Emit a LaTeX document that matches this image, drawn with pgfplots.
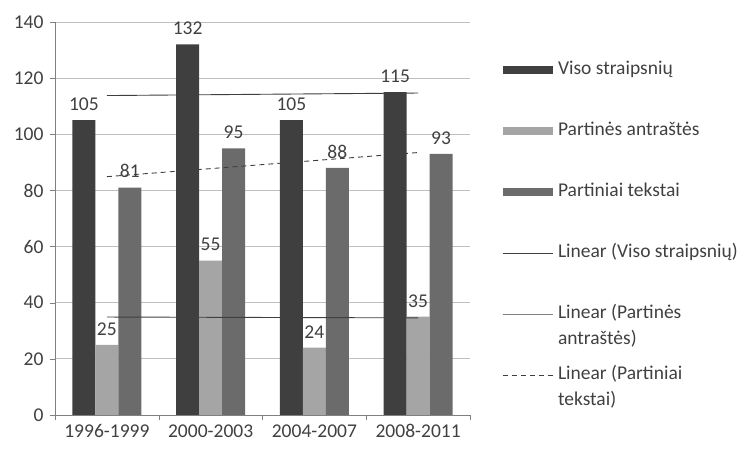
\documentclass[border=0pt]{standalone}
\usepackage{pgfplots}
\pgfplotsset{compat=1.18}
\usepackage{fontspec}
\setmainfont{Carlito}

\definecolor{cdark}{HTML}{3F3F3F}
\definecolor{clight}{HTML}{A5A5A5}
\definecolor{cmed}{HTML}{6B6B6B}
\definecolor{ctext}{HTML}{404040}
\definecolor{cgrid}{HTML}{BFBFBF}

\begin{document}
\begin{tikzpicture}[font=\fontsize{19.5bp}{26bp}\selectfont]
\begin{axis}[
  scale only axis, width=415bp, height=393bp,
  at={(0,0)}, anchor=south west,
  ybar, bar width=23bp,
  xmin=-0.5, xmax=3.5, ymin=0, ymax=140,
  ytick={0,20,...,140},
  xtick={-0.5,0.5,1.5,2.5,3.5}, xticklabels={},
  extra x ticks={0,1,2,3},
  extra x tick labels={1996-1999,2000-2003,2004-2007,2008-2011},
  extra x tick style={major tick length=0pt},
  axis x line*=bottom, axis y line*=left,
  axis line style={draw=gray},
  tick style={draw=gray},
  ymajorgrids, major grid style={draw=cgrid, line width=0.8bp},
  tick align=outside, major tick length=5bp,
  ticklabel style={text=ctext},
  yticklabel style={xshift=-3bp},
  xticklabel style={yshift=-6bp},
  /pgf/number format/assume math mode=true,
  every node near coord/.append style={text=ctext, yshift=6bp},
  legend cell align=left,
  legend style={draw=none, fill=none, inner sep=0pt,
    at={(axis description cs:1.077,0.90)}, anchor=north west,
    row sep=44bp, column sep=5bp, text=ctext,
    nodes={inner sep=0pt, text height=13bp, text depth=4bp}},
]
\addplot[fill=cdark, draw=none, bar shift=-23bp,
  nodes near coords,
  legend image code/.code={\fill[cdark] (0bp,-4bp) rectangle (50bp,4bp);}]
  coordinates {(0,105) (1,132) (2,105) (3,115)};
\addlegendentry{Viso straipsnių}
\addplot[fill=clight, draw=none, bar shift=0bp,
  nodes near coords,
  legend image code/.code={\fill[clight] (0bp,-4bp) rectangle (50bp,4bp);}]
  coordinates {(0,25) (1,55) (2,24) (3,35)};
\addlegendentry{Partinės antraštės}
\addplot[fill=cmed, draw=none, bar shift=23bp,
  nodes near coords,
  legend image code/.code={\fill[cmed] (0bp,-4bp) rectangle (50bp,4bp);}]
  coordinates {(0,81) (1,95) (2,88) (3,93)};
\addlegendentry{Partiniai tekstai}
\addplot[sharp plot, mark=none, draw=cdark, line width=0.9bp,
  legend image code/.code={\draw[cdark, line width=0.9bp] (0bp,0bp) -- (50bp,0bp);}]
  coordinates {(0,113.8) (3,114.7)};
\addlegendentry{Linear (Viso straipsnių)}
\addplot[sharp plot, mark=none, draw=cdark, line width=0.9bp,
  legend image code/.code={\draw[gray, line width=0.9bp] (0bp,0bp) -- (50bp,0bp);}]
  coordinates {(0,34.9) (3,34.6)};
\addlegendentry{\begin{tabular}[t]{@{}l@{}}Linear (Partinės\\antraštės)\end{tabular}}
\addplot[sharp plot, mark=none, draw=cdark, line width=0.9bp, dash pattern=on 5bp off 4bp,
  legend image code/.code={\draw[cdark, line width=0.9bp, dash pattern=on 5bp off 4bp] (0bp,0bp) -- (50bp,0bp);}]
  coordinates {(0,84.9) (3,93.5)};
\addlegendentry{\begin{tabular}[t]{@{}l@{}}Linear (Partiniai\\tekstai)\end{tabular}}
\end{axis}
\pgfresetboundingbox
\path[use as bounding box] (-55bp,-36bp) rectangle (691bp,415bp);
\end{tikzpicture}
\end{document}
